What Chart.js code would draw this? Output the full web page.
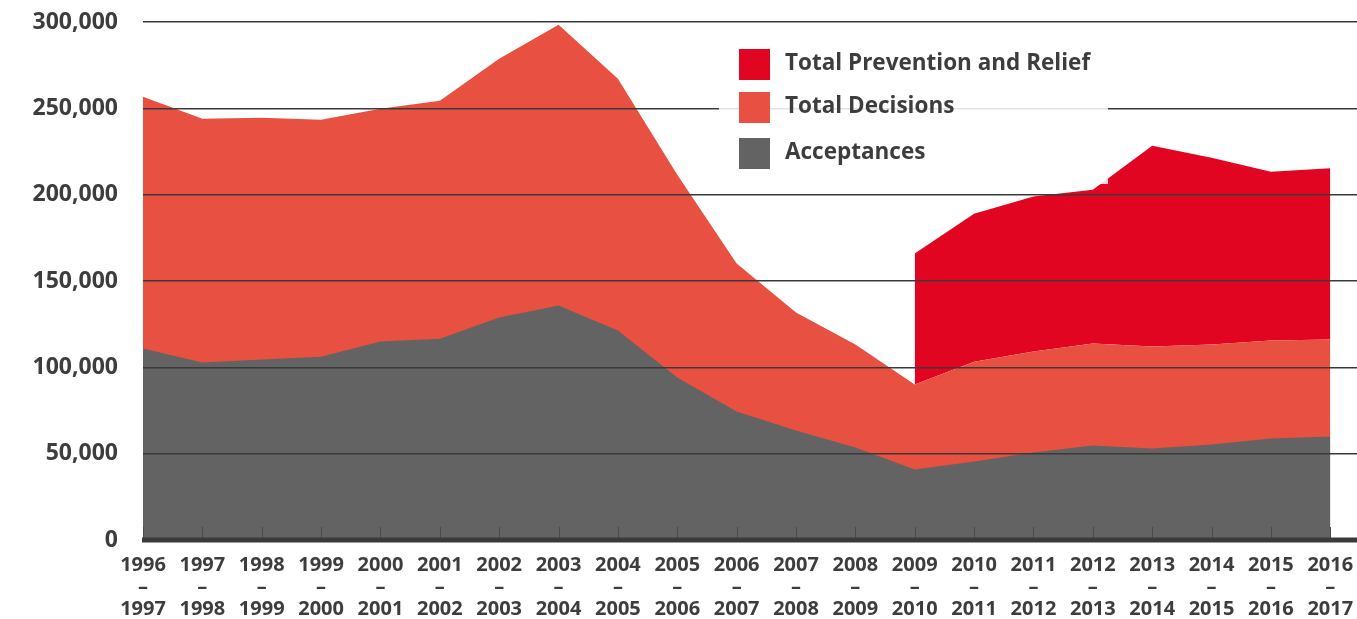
<!DOCTYPE html>
<html>
<head>
<meta charset="utf-8">
<script src="https://cdn.jsdelivr.net/npm/chart.js@4"></script>
<style>
    html, body { margin: 0; padding: 0; background: #fff; }
    #wrap { width: 1357px; height: 619px; }
</style>
</head>
<body>
<div id="wrap"><canvas id="chart" width="1357" height="619"></canvas></div>
<script>
// Financial years along the x axis
const yearLabels = [
    ['1996', '–', '1997'], ['1997', '–', '1998'], ['1998', '–', '1999'], ['1999', '–', '2000'],
    ['2000', '–', '2001'], ['2001', '–', '2002'], ['2002', '–', '2003'], ['2003', '–', '2004'],
    ['2004', '–', '2005'], ['2005', '–', '2006'], ['2006', '–', '2007'], ['2007', '–', '2008'],
    ['2008', '–', '2009'], ['2009', '–', '2010'], ['2010', '–', '2011'], ['2011', '–', '2012'],
    ['2012', '–', '2013'], ['2013', '–', '2014'], ['2014', '–', '2015'], ['2015', '–', '2016'],
    ['2016', '–', '2017']
];

const acceptances = [
    110900, 102800, 104500, 106200, 114900, 116600, 128800, 135800, 121300, 94100, 74400,
    63400, 53500, 40800, 45400, 50700, 54700, 53000, 55300, 58800, 59900
];

const totalDecisions = [
    256700, 244000, 244600, 243400, 249800, 254400, 278700, 298400, 267200, 211600, 160100,
    131700, 113200, 90000, 103300, 109100, 113800, 112000, 113200, 115500, 116100
];

// prevention and relief figures only start in 2009-10
const preventionRelief = [
    null, null, null, null, null, null, null, null, null, null, null,
    null, null, 165900, 189000, 198900, 202900, 228400, 221400, 213300, 215300
];

const yTicks = [0, 50000, 100000, 150000, 200000, 250000, 300000];

const toPoints = arr => arr.map((v, i) => ({ x: i, y: v }));

const textColor = '#3d3d3d';
const fontFamily = '"Open Sans", "DejaVu Sans", sans-serif';

// axis line, tick marks and the boxed legend
const decorations = {
    id: 'decorations',
    afterDraw(chart) {
        const ctx = chart.ctx;
        const area = chart.chartArea;
        const xScale = chart.scales.x;

        ctx.save();
        ctx.strokeStyle = '#4a4a4a';
        ctx.lineWidth = 1;
        yearLabels.forEach((_, i) => {
            const x = Math.round(xScale.getPixelForValue(i)) + 0.5;
            ctx.beginPath();
            ctx.moveTo(x, area.bottom - 13);
            ctx.lineTo(x, area.bottom);
            ctx.stroke();
        });

        ctx.strokeStyle = '#3a3a3a';
        ctx.lineWidth = 5;
        ctx.beginPath();
        ctx.moveTo(area.left - 1, area.bottom);
        ctx.lineTo(chart.width, area.bottom);
        ctx.stroke();

        // legend
        ctx.fillStyle = 'rgba(255,255,255,0.86)';
        ctx.fillRect(719, 35, 389, 149);

        const items = [2, 1, 0].map(i => chart.data.datasets[i]);
        const rows = [49, 92, 138];
        ctx.font = 'bold 22.5px ' + fontFamily;
        ctx.textBaseline = 'middle';
        items.forEach((ds, k) => {
            ctx.fillStyle = ds.backgroundColor;
            ctx.fillRect(739, rows[k], 31, 31);
            ctx.fillStyle = textColor;
            ctx.fillText(ds.label, 785, rows[k] + 15);
        });
        ctx.restore();
    }
};

new Chart(document.getElementById('chart'), {
    type: 'line',
    data: {
        datasets: [
            {
                label: 'Acceptances',
                data: toPoints(acceptances),
                backgroundColor: '#636363',
                fill: 'origin'
            },
            {
                label: 'Total Decisions',
                data: toPoints(totalDecisions),
                backgroundColor: '#e85141',
                fill: 'origin'
            },
            {
                label: 'Total Prevention and Relief',
                data: toPoints(preventionRelief),
                backgroundColor: '#e10521',
                fill: 1
            }
        ]
    },
    options: {
        responsive: false,
        devicePixelRatio: 1,
        animation: false,
        layout: { padding: { top: 22, left: 0, right: 0, bottom: 0 } },
        elements: {
            point: { radius: 0, hoverRadius: 0 },
            line: { borderWidth: 0, tension: 0 }
        },
        plugins: {
            legend: { display: false },
            tooltip: { enabled: false }
        },
        scales: {
            x: {
                type: 'linear',
                min: 0,
                max: 20.45,
                grid: { display: false },
                border: { display: false },
                afterFit: s => {
                    s.height = 79;
                    s.paddingLeft = 0;
                    s.paddingRight = 0;
                    s.paddingTop = 0;
                    s.paddingBottom = 0;
                },
                ticks: {
                    stepSize: 1,
                    autoSkip: false,
                    includeBounds: false,
                    maxRotation: 0,
                    padding: 6,
                    color: textColor,
                    font: { family: fontFamily, size: 20, weight: 'bold', lineHeight: 1.1 },
                    callback: v => Number.isInteger(v) && yearLabels[v] ? yearLabels[v] : ''
                }
            },
            y: {
                min: 0,
                max: 300000,
                afterFit: s => {
                    s.width = 143;
                    s.paddingTop = 0;
                    s.paddingBottom = 0;
                },
                afterBuildTicks: s => { s.ticks = yTicks.map(v => ({ value: v })); },
                grid: {
                    color: '#3a3a3a',
                    lineWidth: 1.5,
                    drawTicks: false,
                    z: 1
                },
                border: { display: false },
                ticks: {
                    padding: 25,
                    color: textColor,
                    font: { family: fontFamily, size: 23, weight: 'bold' },
                    callback: v => v.toLocaleString('en-US')
                }
            }
        }
    },
    plugins: [decorations]
});
</script>
</body>
</html>
